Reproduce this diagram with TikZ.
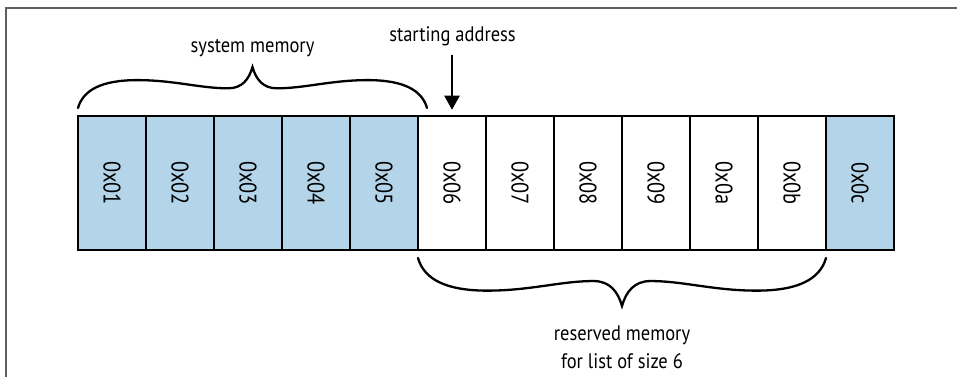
\documentclass[tikz,border=0pt]{standalone}
\usepackage{fontspec}
\setmainfont{PT Sans}
\newfontfamily\labelfont[FakeStretch=0.88]{PT Sans}
\newfontfamily\cellfont[FakeStretch=0.85]{PT Sans}
\usetikzlibrary{arrows.meta}
\definecolor{memblue}{RGB}{179,212,233}
\definecolor{framegray}{RGB}{95,95,95}
\tikzset{
  cell/.style={draw=black, line width=2.5pt, minimum width=68pt, minimum height=134pt,
    inner sep=0pt, font=\cellfont\fontsize{24}{26}\selectfont},
  sysmem/.style={cell, fill=memblue},
  freemem/.style={cell, fill=white},
  lbl/.style={font=\labelfont\fontsize{21}{28}\selectfont, inner sep=0pt, align=center},
  bracestyle/.style={line width=2.3pt, line cap=round},
  cbrace/.pic={
    \draw[bracestyle] (-1,0) .. controls (-0.97,0.45) and (-0.86,0.68) .. (-0.66,0.68)
      .. controls (-0.45,0.68) and (-0.3,0.48) .. (-0.14,0.48)
      .. controls (-0.06,0.48) and (-0.02,0.7) .. (0,1)
      .. controls (0.02,0.7) and (0.06,0.48) .. (0.14,0.48)
      .. controls (0.3,0.48) and (0.45,0.68) .. (0.66,0.68)
      .. controls (0.86,0.68) and (0.97,0.45) .. (1,0);
  },
  pointer/.style={line width=2.3pt, -{Triangle[length=14pt,width=15pt]}}
}
\begin{document}
\begin{tikzpicture}[x=1pt,y=-1pt]
\useasboundingbox (0,0) rectangle (957,377);
% frame
\draw[framegray, line width=2pt] (957,8.5) -- (6,8.5) -- (6,377);
% cells
\foreach \i/\t/\s in {1/0x01/sysmem,2/0x02/sysmem,3/0x03/sysmem,4/0x04/sysmem,5/0x05/sysmem,
  6/0x06/freemem,7/0x07/freemem,8/0x08/freemem,9/0x09/freemem,10/0x0a/freemem,11/0x0b/freemem,12/0x0c/sysmem}
  \node[\s] (c\i) at ({78+68*(\i-0.5)},183) {\rotatebox{-90}{\t}};
% labels
\node[lbl, anchor=base] (sys) at (252.5,53) {system memory};
\node[lbl, anchor=base] (start) at (452.5,42) {starting address};
\node[lbl, anchor=base] (res) at (622,368) {reserved memory\\for list of size 6};
% braces
\pic[xscale=174.5, yscale=-41] at (252.5,108) {cbrace};
\pic[xscale=204, yscale=48] at (622,258) {cbrace};
% pointer
\draw[pointer, shorten <=8pt, shorten >=5pt] (start.south -| c6.north) -- (c6.north);
\end{tikzpicture}
\end{document}
